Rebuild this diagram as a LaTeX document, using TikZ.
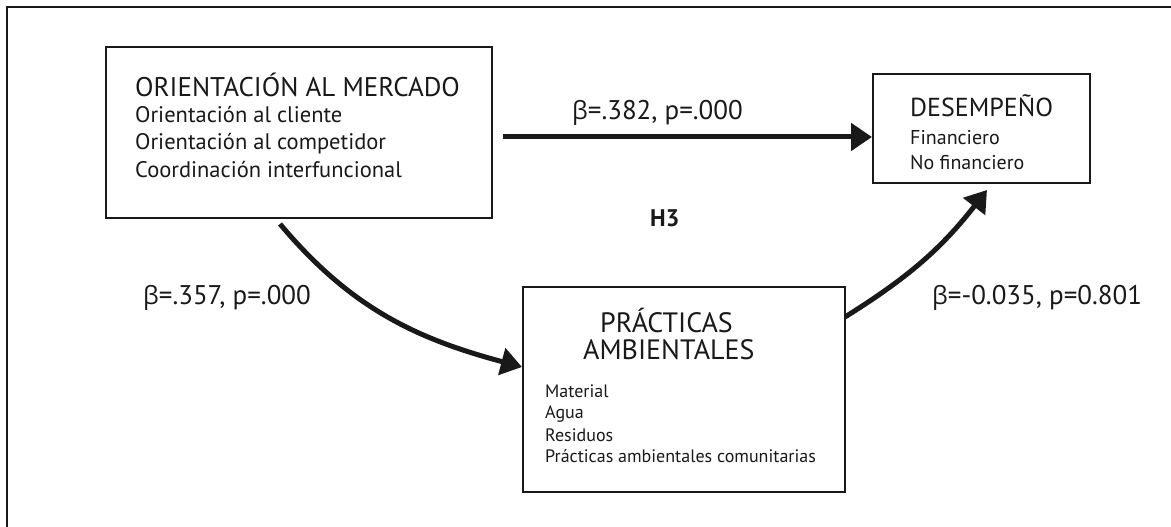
\documentclass[tikz,border=0pt]{standalone}
\usepackage{fontspec}
\setmainfont{PT Sans}
\newfontfamily\grk{Open Sans}
\usetikzlibrary{arrows.meta}
\tikzset{
  box/.style={draw=black!90, line width=2pt, inner sep=0pt},
  lbl/.style={anchor=base west, inner sep=0pt, text=black!90},
  big/.style={font=\fontsize{27}{30}\selectfont},
  med/.style={font=\fontsize{22.5}{25}\selectfont},
  sml/.style={font=\fontsize{18}{21}\selectfont},
  arr/.style={draw=black!90, line width=5pt, -{Triangle[length=21pt,width=27pt]}},
}
\newcommand{\bet}{{\grk\fontsize{25}{30}\selectfont β}}
\begin{document}
\begin{tikzpicture}[x=1pt,y=1pt]
\useasboundingbox (0,0) rectangle (1171,527);
% outer frame (left and top)
\draw[black!90, line width=2.5pt] (7,-2) -- (7,520) -- (1173,520);
% boxes
\node[box, minimum width=386pt, minimum height=171pt] (om) at (299,394.5) {};
\node[box, minimum width=217pt, minimum height=109pt] (des) at (981.5,398.5) {};
\node[box, minimum width=322pt, minimum height=205pt] (pa) at (684,137.5) {};
% texts in OM
\node[lbl, big] (omt) at (135,430) {ORIENTACIÓN AL MERCADO};
\node[lbl, med] (om1) at (135,404) {Orientación al cliente};
\node[lbl, med] (om2) at (135,377) {Orientación al competidor};
\node[lbl, med] (om3) at (135,349) {Coordinación interfuncional};
% texts in DES
\node[lbl, font=\fontsize{26}{29}\selectfont] (dest) at (910,410) {DESEMPEÑO};
\node[lbl, font=\fontsize{20}{23}\selectfont] (des1) at (910,382) {Financiero};
\node[lbl, font=\fontsize{20}{23}\selectfont] (des2) at (910,357) {No financiero};
% texts in PA
\node[lbl, font=\fontsize{28}{32}\selectfont] (pat1) at (600,194) {PRÁCTICAS};
\node[lbl, font=\fontsize{28}{32}\selectfont] (pat2) at (583,167) {AMBIENTALES};
\node[lbl, sml] (pa1) at (545,129) {Material};
\node[lbl, sml] (pa2) at (545,108) {Agua};
\node[lbl, sml] (pa3) at (545,85) {Residuos};
\node[lbl, sml] (pa4) at (545,64) {Prácticas ambientales comunitarias};
% path labels
\node[lbl, big] (b1) at (572,407) {\bet=.382, p=.000};
\node[lbl, big] (b2) at (143,222) {\bet=.357, p=.000};
\node[lbl, big] (b3) at (932,222) {\bet=-0.035, p=0.801};
\node[lbl, font=\bfseries\fontsize{24}{27}\selectfont] (h3) at (650,300) {H3};
% connectors
\coordinate (s1) at (503,390);
\coordinate (s2) at (280,303);
\coordinate (s3) at (845,210);
\coordinate (e3) at (987,337);
\draw[arr] (s1) -- (865,390 -| des.west) ;
\draw[arr] (s2) to[out=-50, in=165] (pa.west |- 0,160);
\draw[arr] (s3) to[out=32, in=-128] (e3);
\end{tikzpicture}
\end{document}
